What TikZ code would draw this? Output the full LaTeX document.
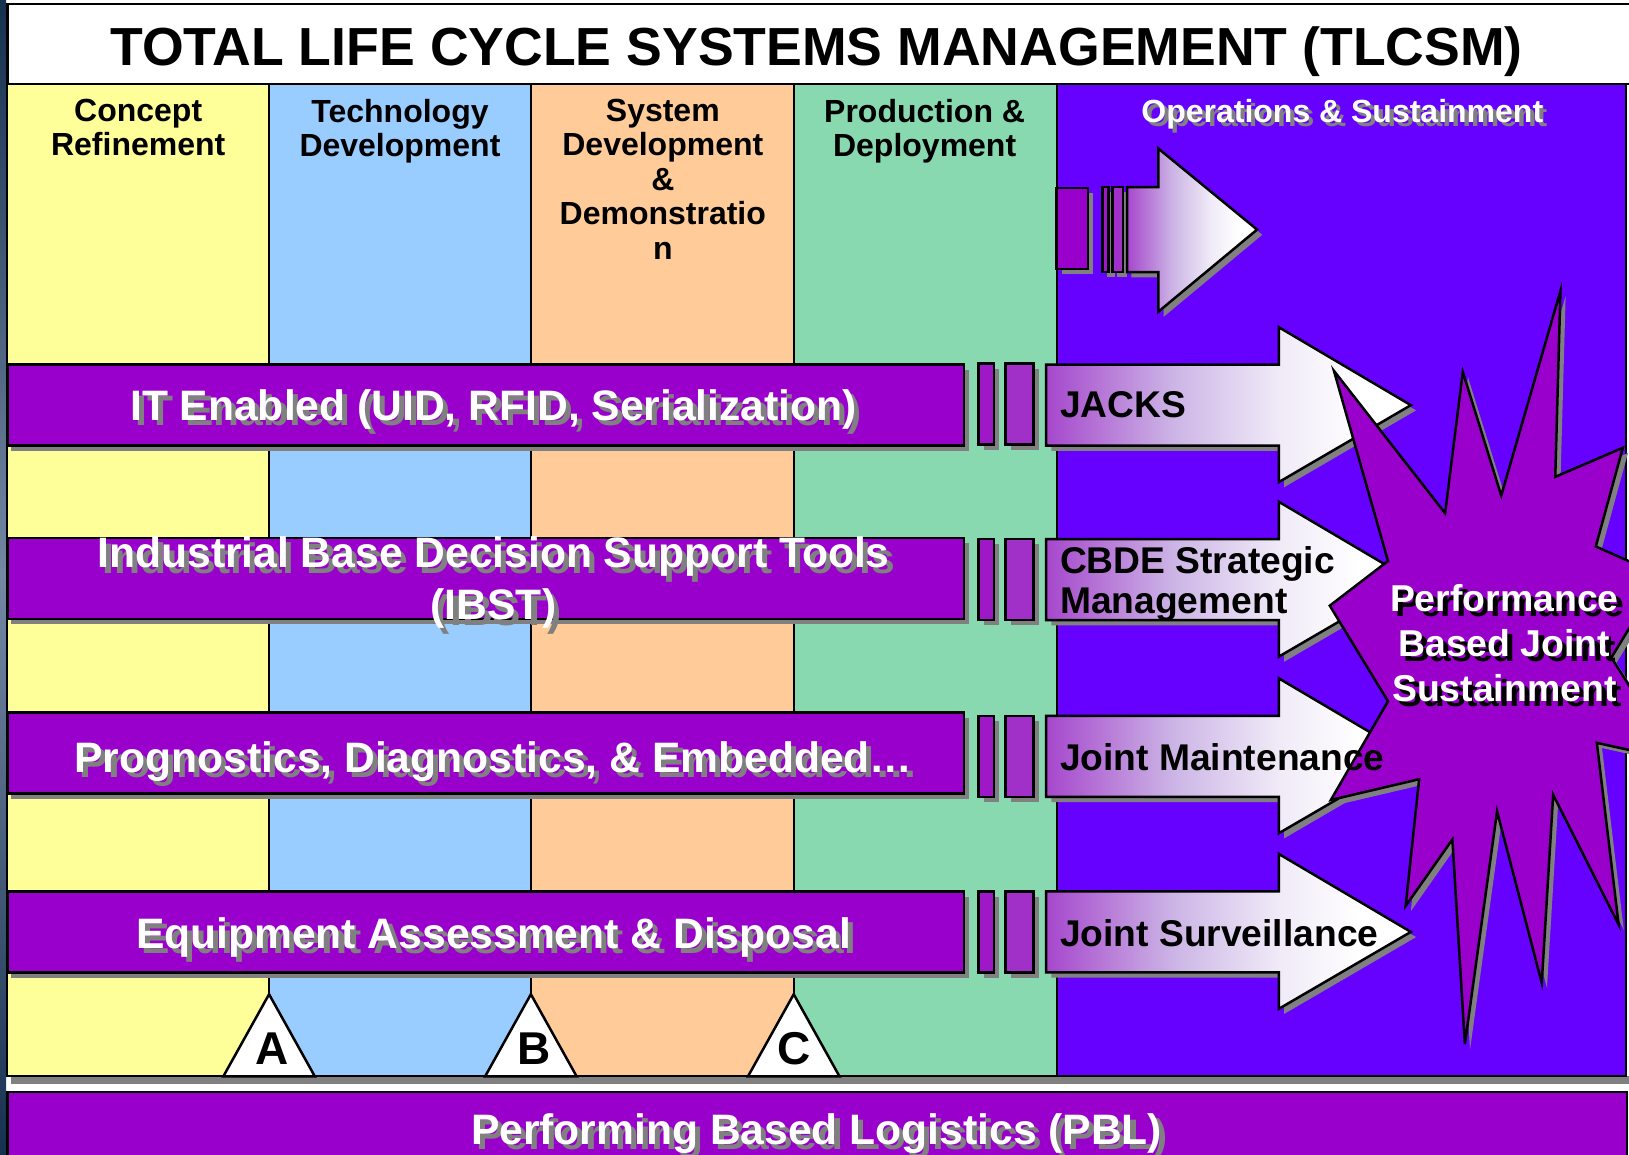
\documentclass[tikz,border=0pt]{standalone}
\usepackage{fontspec}
\setmainfont{Liberation Sans}
\definecolor{cyel}{HTML}{FFFF99}
\definecolor{cblu}{HTML}{99CCFF}
\definecolor{corg}{HTML}{FFCC99}
\definecolor{cgrn}{HTML}{89D9B0}
\definecolor{cvio}{HTML}{6600FF}
\definecolor{cpur}{HTML}{9900CC}
\definecolor{cshd}{HTML}{808080}
\definecolor{cnavy}{HTML}{16304F}
\definecolor{cslate}{HTML}{7488A4}
\definecolor{cbara}{HTML}{9F18C8}
\definecolor{cbarb}{HTML}{A030C8}
\pgfdeclarehorizontalshading{arrowgrad}{100bp}{
  rgb(0bp)=(0.65,0.28,0.80);
  rgb(25bp)=(0.65,0.28,0.80);
  rgb(42.5bp)=(0.80,0.71,0.90);
  rgb(57bp)=(0.94,0.92,0.97);
  rgb(68bp)=(1,1,1);
  rgb(100bp)=(1,1,1)}
\tikzset{
  x=0.5195pt,y=-0.5195pt,
  panel/.style={draw=black,line width=1.25pt,line join=miter},
  thinpanel/.style={draw=black,line width=1pt,line join=miter},
  bandbox/.style={panel,fill=cpur},
  shadowfill/.style={fill=cshd,draw=none},
  arrowbody/.style={panel,shading=arrowgrad},
  headtext/.style={align=center,inner sep=0pt,font=\fontsize{16}{17.25}\selectfont\bfseries,anchor=north},
  bandtext/.style={align=center,inner sep=0pt,font=\fontsize{21.3}{26}\selectfont\bfseries},
  arrowtext/.style={align=left,inner sep=0pt,anchor=west,font=\fontsize{18.6}{20.3}\selectfont\bfseries},
  startext/.style={align=center,inner sep=0pt,font=\fontsize{18.7}{22.4}\selectfont\bfseries},
  letter/.style={inner sep=0pt,font=\fontsize{23}{23}\selectfont\bfseries}
}
\newcommand{\arrowshape}[2]{%
  (#1,#2-39) -- (1231,#2-39) -- (1231,#2-75) -- (1358,#2) -- (1231,#2+74) -- (1231,#2+39) -- (#1,#2+39) -- cycle}
\newcommand{\gaprow}[1]{%
  \fill[shadowfill] (947,#1+5) rectangle (962,#1+83);
  \fill[shadowfill] (973,#1+5) rectangle (1000,#1+83);
  \draw[panel,fill=cbara] (942,#1) rectangle (957,#1+78);
  \draw[panel,fill=cbarb] (968,#1) rectangle (995,#1+78);}
\begin{document}
\begin{tikzpicture}
\clip (0,0) rectangle (1568,1111.7);
\fill[white] (0,0) rectangle (1568,1111.7);
\shade[top color=cnavy,bottom color=cnavy,middle color=cslate] (0,0) rectangle (6,1111.7);
% title
\draw[panel,fill=white] (7,4) rectangle (1575,81);
\node[inner sep=0pt,font=\fontsize{26.8}{30}\selectfont\bfseries] (title) at (786,50) {TOTAL LIFE CYCLE SYSTEMS MANAGEMENT (TLCSM)};
% frame shadow
\fill[shadowfill] (11,1036) rectangle (1568,1043);
% columns
\draw[thinpanel,fill=cyel] (7,81) rectangle (259,1036);
\draw[thinpanel,fill=cblu] (259,81) rectangle (511,1036);
\draw[thinpanel,fill=corg] (511,81) rectangle (764,1036);
\draw[thinpanel,fill=cgrn] (764,81) rectangle (1017,1036);
\draw[thinpanel,fill=cvio] (1017,81) rectangle (1565,1036);
% heads
\node[headtext] (h1) at (133,95) {Concept\\Refinement};
\node[headtext] (h2) at (385,95) {Technology\\Development};
\node[headtext] (h3) at (638,95) {System\\Development\\\&\\Demonstratio\\n};
\node[headtext] (h4) at (890,95) {Production \&\\Deployment};
\node[headtext,text=cshd] (h5s) at (1296,99) {Operations \& Sustainment};
\node[headtext,text=white] (h5) at (1292,95) {Operations \& Sustainment};
% top arrow
\fill[shadowfill] (1022,186) rectangle (1052,264);
\fill[shadowfill] (1066,185) rectangle (1073,267);
\fill[shadowfill] (1075,185) rectangle (1085,267);
\fill[shadowfill] (1089,185) -- (1120,185) -- (1120,148) -- (1215,226) -- (1120,305) -- (1120,267) -- (1089,267) -- cycle;
\draw[bandbox] (1017,181) rectangle (1047,259);
\draw[panel,fill=cbara] (1061,180) rectangle (1067,262);
\draw[panel,fill=cbarb] (1071,180) rectangle (1081,262);
\draw[arrowbody] (1085,180) -- (1115,180) -- (1115,143) -- (1210,221) -- (1115,300) -- (1115,262) -- (1085,262) -- cycle;
% bands
\foreach \yy in {351,518,686,858}{
  \fill[shadowfill] (11,\yy+5) rectangle (933,\yy+83);
  \draw[bandbox] (7,\yy) rectangle (928,\yy+78);
}
% small bars
\gaprow{350}
\gaprow{519}
\gaprow{689}
\gaprow{858}
% arrows
\foreach \yy in {390,558,728,897}{
  \begin{scope}[shift={(5,5)}]
    \fill[shadowfill] \arrowshape{1007}{\yy};
  \end{scope}
  \draw[arrowbody] \arrowshape{1007}{\yy};
}
% triangles
\draw[panel,fill=white] (259,957) -- (303,1036) -- (215,1036) -- cycle;
\draw[panel,fill=white] (511,957) -- (555,1036) -- (467,1036) -- cycle;
\draw[panel,fill=white] (764,957) -- (808,1036) -- (720,1036) -- cycle;
\node[letter] (tA) at (262,1009) {A};
\node[letter] (tB) at (514,1009) {B};
\node[letter] (tC) at (764,1009) {C};
% bottom band
\draw[bandbox] (7,1051) rectangle (1566,1130);
% star
\def\starpts{(1284,357) -- (1391,494) -- (1408,358) -- (1445,477) -- (1502,280) -- (1497,459) -- (1562,431) -- (1536,526) -- (1599,554) -- (1551,633) -- (1614,732) -- (1537,715) -- (1558,890) -- (1495,765) -- (1484,946) -- (1441,781) -- (1410,1005) -- (1398,808) -- (1353,872) -- (1366,750) -- (1281,770) -- (1336,675) -- (1280,583) -- (1336,540) -- cycle}
\begin{scope}[shift={(5,5)}]
\fill[shadowfill] \starpts;
\end{scope}
\draw[panel,fill=cpur] \starpts;
% band texts
\newcommand{\bandlabel}[5]{%
  \node[#1,text=cshd] (#2s) at (#3+5,#4+5) {#5};
  \node[#1,text=white] (#2) at (#3,#4) {#5};}
\bandlabel{bandtext}{b1}{475}{394}{IT Enabled (UID, RFID, Serialization)}
\bandlabel{bandtext}{b2}{475}{561}{Industrial Base Decision Support Tools\\(IBST)}
\bandlabel{bandtext}{b3}{475}{733}{Prognostics, Diagnostics, \& Embedded\ldots}
\bandlabel{bandtext}{b4}{475}{902}{Equipment Assessment \& Disposal}
\bandlabel{bandtext}{b5}{786}{1091}{Performing Based Logistics (PBL)}
\node[startext,text=black] (sts) at (1453,624) {Performance\\Based Joint\\Sustainment};
\node[startext,text=white] (st) at (1448,619) {Performance\\Based Joint\\Sustainment};
% arrow texts
\node[arrowtext] (a1) at (1020,390) {JACKS};
\node[arrowtext] (a2) at (1020,562) {CBDE Strategic\\Management};
\node[arrowtext] (a3) at (1020,729) {Joint Maintenance};
\node[arrowtext] (a4) at (1020,898) {Joint Surveillance};
\end{tikzpicture}
\end{document}
